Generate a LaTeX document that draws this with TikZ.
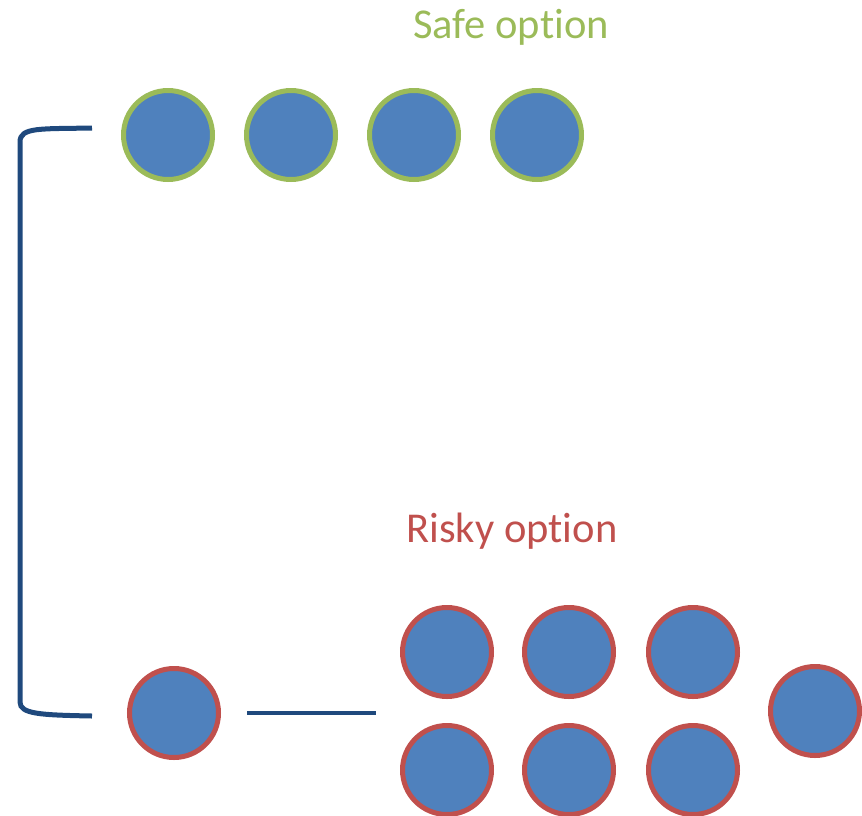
\documentclass[tikz,border=0pt]{standalone}
\usepackage{fontspec}
\setmainfont{Carlito}[Ligatures={NoCommon}]
\definecolor{ballfill}{HTML}{4F81BD}
\definecolor{safegreen}{HTML}{9BBB59}
\definecolor{riskyred}{HTML}{C0504D}
\definecolor{linkblue}{HTML}{1F497D}
\begin{document}
\begin{tikzpicture}[x=1pt,y=-1pt,
  ball/.style={circle,fill=ballfill,line width=5pt,minimum size=89pt,inner sep=0pt},
  safeball/.style={ball,draw=safegreen},
  riskyball/.style={ball,draw=riskyred},
  caption/.style={anchor=base,font=\fontsize{42.5}{50}\selectfont},
  link/.style={draw=linkblue,line width=4.5pt}]
\useasboundingbox (0,0) rectangle (862,815);

% safe option
\node[caption,text=safegreen] (safelabel) at (511,38) {Safe option};
\node[safeball] (s1) at (168,135) {};
\node[safeball] (s2) at (291,135) {};
\node[safeball] (s3) at (414,135) {};
\node[safeball] (s4) at (537,135) {};

% risky option
\node[caption,text=riskyred] (riskylabel) at (512,542) {Risky option};
\node[riskyball] (single) at (174,713) {};
\node[riskyball] (r11) at (447,652) {};
\node[riskyball] (r12) at (569,652) {};
\node[riskyball] (r13) at (693,652) {};
\node[riskyball] (r21) at (447,770) {};
\node[riskyball] (r22) at (569,770) {};
\node[riskyball] (r23) at (693,770) {};
\node[riskyball] (r4) at (815,711) {};

% link from the single ball towards the group
\coordinate (linkstart) at (247,713);
\coordinate (linkend) at (376,713);
\draw[link] (linkstart) -- (linkend);

% bracket joining both options
\coordinate (brtop) at (92,128);
\coordinate (brbot) at (92,716);
\draw[link,line width=5pt] (brtop) .. controls (40,129) and (20,127) .. (20,142)
  -- (20,702) .. controls (20,714) and (40,715) .. (brbot);
\end{tikzpicture}
\end{document}
